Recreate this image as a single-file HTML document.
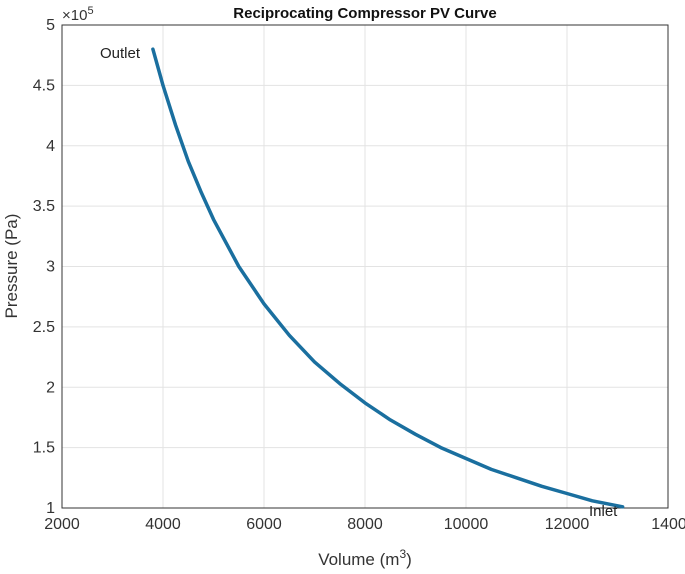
<!DOCTYPE html>
<html><head><meta charset="utf-8"><style>
body{margin:0;background:#fff;font-family:"Liberation Sans",sans-serif}
svg{display:block}
</style></head><body>
<svg id="chart" width="685" height="574" viewBox="0 0 685 574" xmlns="http://www.w3.org/2000/svg" font-family="Liberation Sans, sans-serif">
<g id="grid"></g>
<rect x="62" y="25" width="606" height="483" fill="none" stroke="#333" stroke-width="1"/>
<g id="ticks" font-size="16" fill="#333"></g>
<text x="365" y="18" text-anchor="middle" font-size="15" font-weight="bold" fill="#111">Reciprocating Compressor PV Curve</text>
<text x="62" y="20" font-size="15" fill="#333">×10<tspan dy="-6" font-size="11">5</tspan></text>
<text x="365" y="565" text-anchor="middle" font-size="17" fill="#333">Volume (m<tspan dy="-7" font-size="12">3</tspan><tspan dy="7">)</tspan></text>
<text transform="translate(17,266) rotate(-90)" text-anchor="middle" font-size="17" fill="#333">Pressure (Pa)</text>
<path id="curve" fill="none" stroke="#1a6f9f" stroke-width="3.5" stroke-linejoin="round" stroke-linecap="round"/>
<text x="100" y="58" font-size="15" fill="#222">Outlet</text>
<text x="589" y="516" font-size="15" fill="#222">Inlet</text>
</svg>
<script>
const xTicks=[2000,4000,6000,8000,10000,12000,14000];
const xTickLabels=["2000","4000","6000","8000","10000","12000","1400"];
const yTicks=[1,1.5,2,2.5,3,3.5,4,4.5,5];
const yTickLabels=["1","1.5","2","2.5","3","3.5","4","4.5","5"];
const volumes=[3800,4000,4250,4500,4750,5000,5500,6000,6500,7000,7500,8000,8500,9000,9500,10000,10500,11000,11500,12000,12500,13100];
const pressures=[4.8,4.5,4.17,3.87,3.62,3.39,3.0,2.69,2.43,2.21,2.03,1.87,1.73,1.61,1.50,1.41,1.32,1.25,1.18,1.12,1.06,1.01];
const L=62,R=668,T=25,B=508;
function xs(v){return L+(v-2000)/12000*(R-L);}
function ys(p){return B-(p-1)/4*(B-T);}
const NS="http://www.w3.org/2000/svg";
const grid=document.getElementById('grid'),ticks=document.getElementById('ticks');
xTicks.forEach((v,i)=>{
 const x=xs(v);
 const g=document.createElementNS(NS,'line');
 
 
 g.setAttribute('x1',x);g.setAttribute('x2',x);g.setAttribute('y1',T);g.setAttribute('y2',B);g.setAttribute('stroke','#e3e3e3');
 grid.appendChild(g);
 const t=document.createElementNS(NS,'text');
 
 
 t.setAttribute('x',i===xTicks.length-1?x+1:x);t.setAttribute('y',529);t.setAttribute('text-anchor','middle');
 t.textContent=xTickLabels[i];ticks.appendChild(t);
});
yTicks.forEach((p,i)=>{
 const y=ys(p);
 const g=document.createElementNS(NS,'line');
 
 
 g.setAttribute('x1',L);g.setAttribute('x2',R);g.setAttribute('y1',y);g.setAttribute('y2',y);g.setAttribute('stroke','#e3e3e3');
 grid.appendChild(g);
 const t=document.createElementNS(NS,'text');
 
 
 t.setAttribute('x',L-7);t.setAttribute('y',y+5);t.setAttribute('text-anchor','end');
 t.textContent=yTickLabels[i];ticks.appendChild(t);
});
let d='';
volumes.forEach((v,i)=>{d+=(i?'L':'M')+xs(v).toFixed(1)+','+ys(pressures[i]).toFixed(1);});
document.getElementById('curve').setAttribute('d',d);
</script>
</body></html>
